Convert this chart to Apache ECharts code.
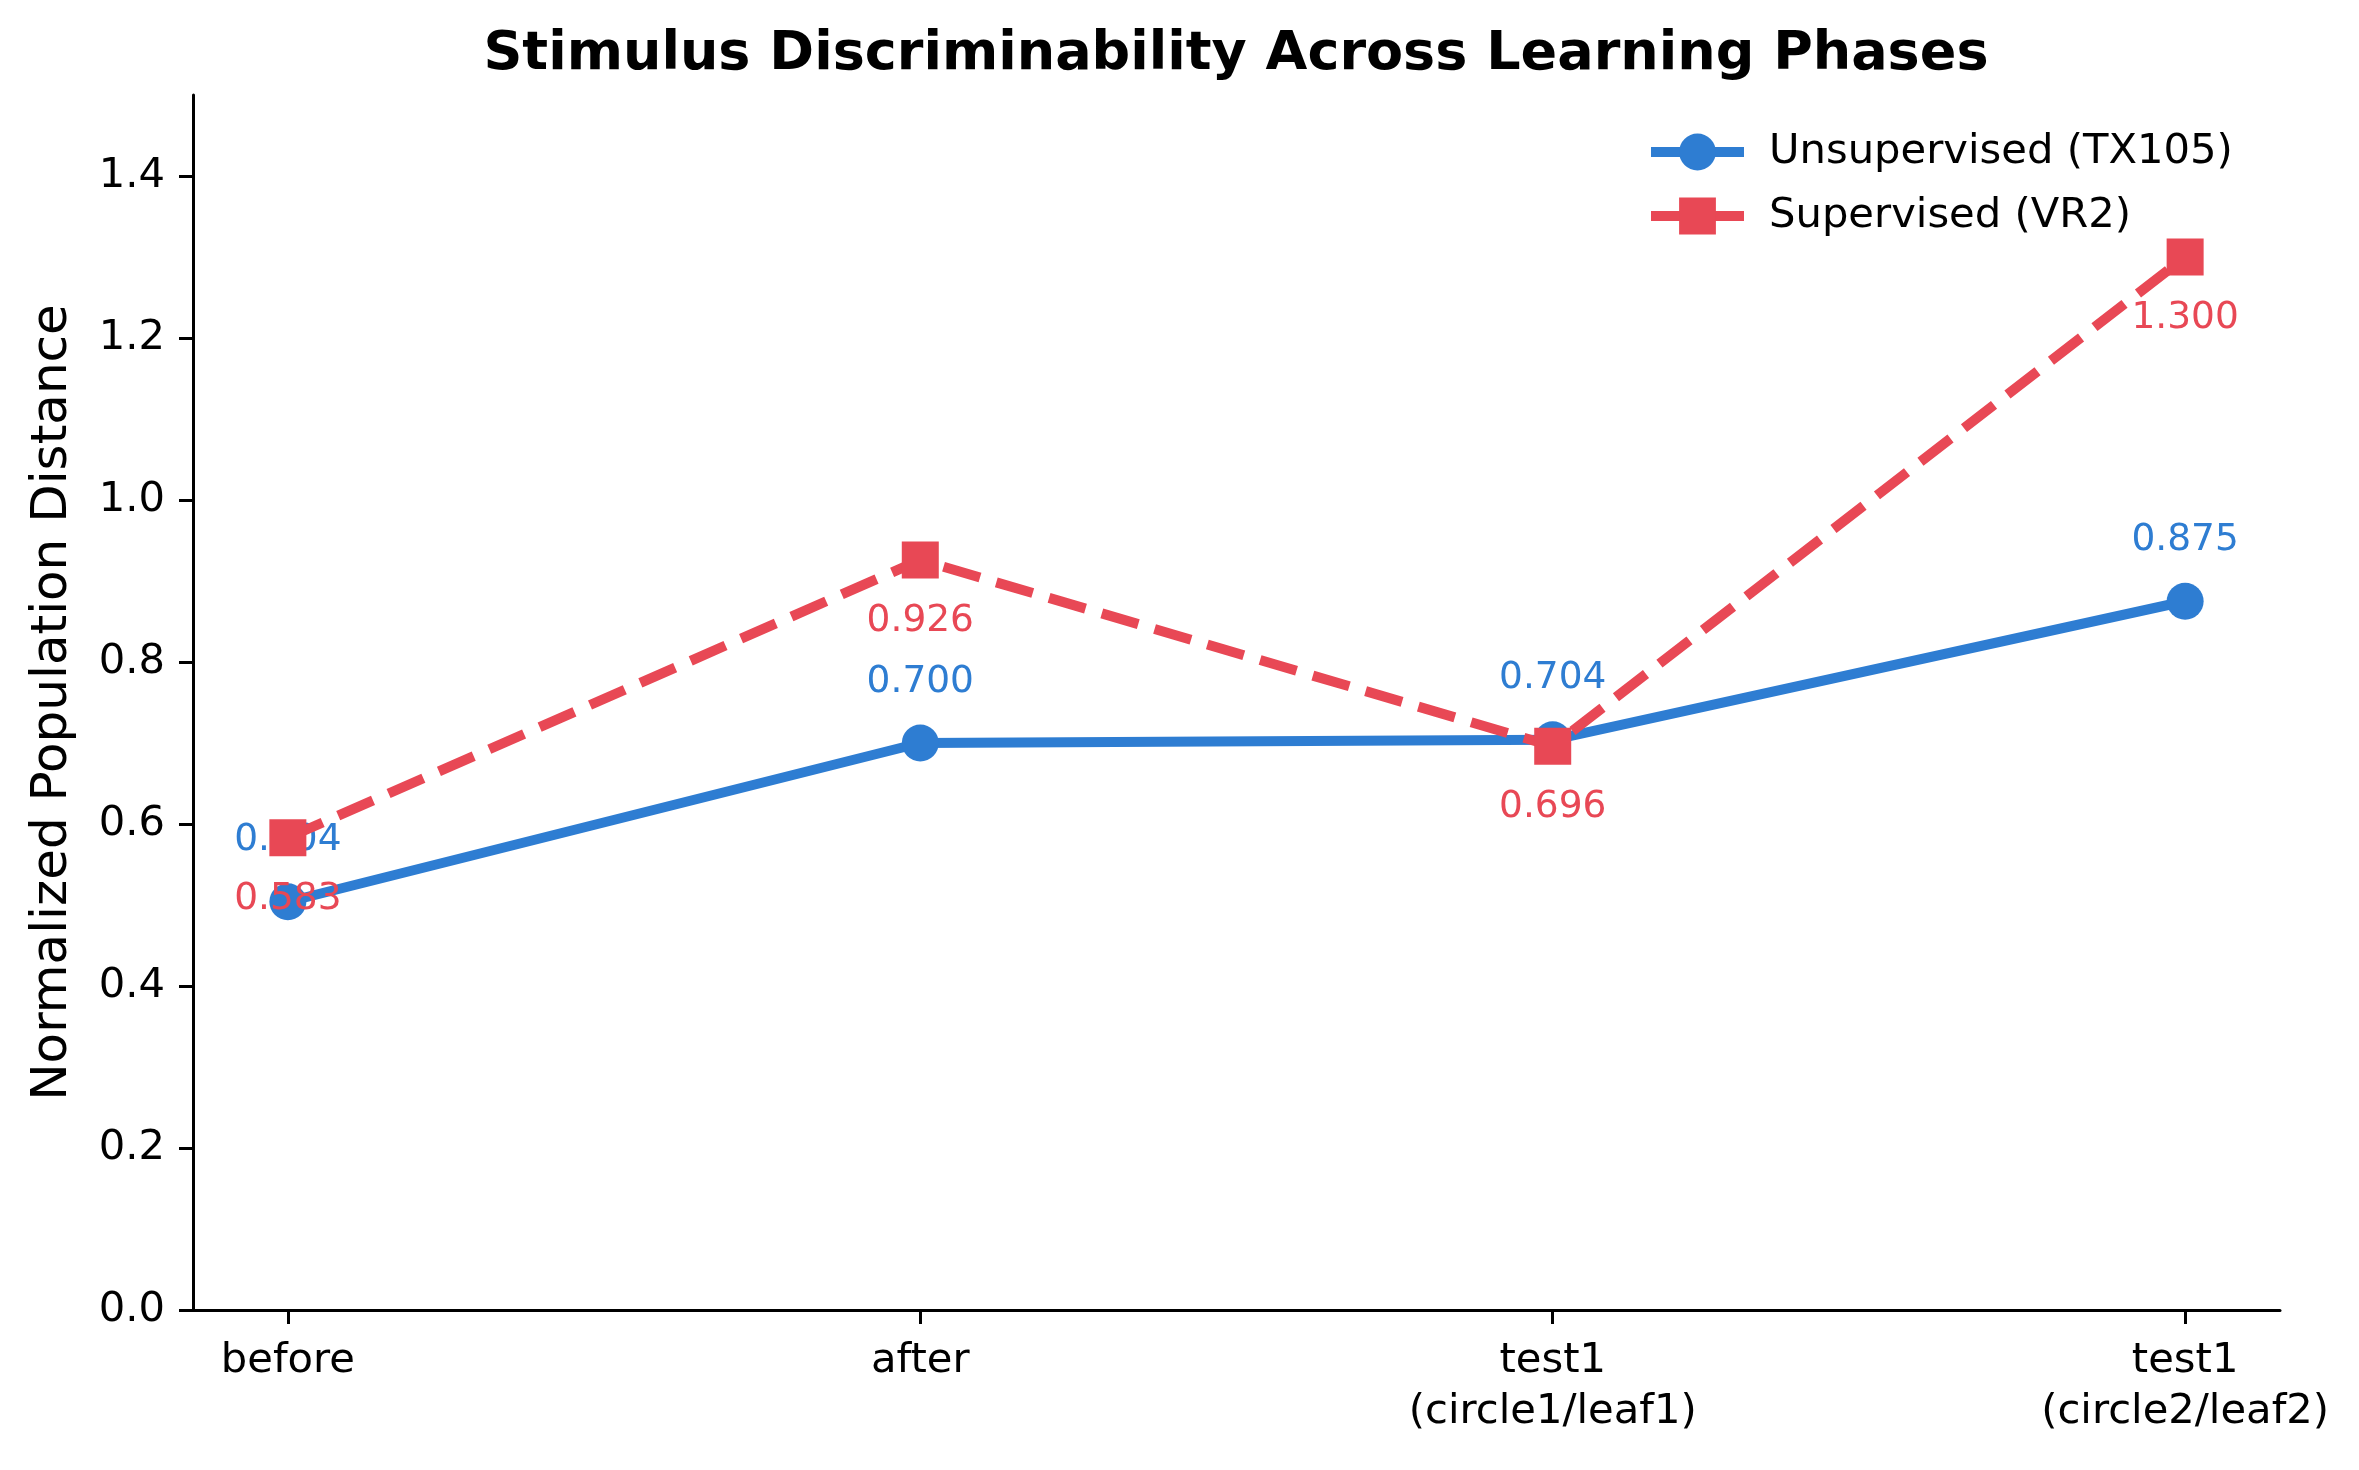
<!DOCTYPE html>
<html>
<head>
<meta charset="utf-8">
<title>Stimulus Discriminability Across Learning Phases</title>
<script src="https://cdn.jsdelivr.net/npm/echarts@6/dist/echarts.min.js"></script>
<style>
  html, body { margin: 0; padding: 0; background: #fff; }
  #chart { width: 2359px; height: 1470px; }
</style>
</head>
<body>
<div id="chart"></div>
<script>
// data
var phases = ["before", "after", "test1\n(circle1/leaf1)", "test1\n(circle2/leaf2)"];
var unsupervised = [0.504, 0.700, 0.704, 0.875];
var supervised = [0.583, 0.926, 0.696, 1.300];
var yTicks = [0, 0.2, 0.4, 0.6, 0.8, 1.0, 1.2, 1.4];

var BLUE = "#2e7dd2";
var RED = "#e84855";
var FONT = "DejaVu Sans";

function pairs(vals) {
  return vals.map(function (v, i) { return [i, v]; });
}
var xIdx = phases.map(function (p, i) { return i; });

var chart = echarts.init(document.getElementById("chart"));

chart.setOption({
  animation: false,
  backgroundColor: "#fff",
  title: {
    text: "Stimulus Discriminability Across Learning Phases",
    left: 1236,
    textAlign: "center",
    top: 28,
    padding: 0,
    textStyle: { fontFamily: FONT, fontSize: 54, fontWeight: "bold", color: "#000" }
  },
  legend: {
    orient: "vertical",
    left: 1646,
    top: 131,
    padding: 0,
    itemWidth: 93,
    itemHeight: 46,
    itemGap: 22,
    lineStyle: { width: 10 },
    textStyle: { fontFamily: FONT, fontSize: 41.7, color: "#000", padding: [0, 0, 0, 20] },
    data: ["Unsupervised (TX105)", "Supervised (VR2)"]
  },
  grid: { left: 193, right: 79, top: 95, bottom: 160, containLabel: false },
  xAxis: {
    type: "value",
    min: -0.15,
    max: 3.15,
    axisLine: { show: true, onZero: false, lineStyle: { color: "#000", width: 3 } },
    axisTick: { show: true, customValues: xIdx, length: 14, lineStyle: { color: "#000", width: 3 } },
    splitLine: { show: false },
    axisLabel: {
      customValues: xIdx,
      margin: 26,
      fontFamily: FONT,
      fontSize: 41.7,
      lineHeight: 51,
      color: "#000",
      formatter: function (v) { return phases[Math.round(v)]; }
    }
  },
  yAxis: {
    type: "value",
    min: 0,
    max: 1.5,
    name: "Normalized Population Distance",
    nameLocation: "middle",
    nameGap: 115,
    nameTextStyle: { fontFamily: FONT, fontSize: 50, color: "#000" },
    axisLine: { show: true, onZero: false, lineStyle: { color: "#000", width: 3 } },
    axisTick: { show: true, customValues: yTicks, length: 14, lineStyle: { color: "#000", width: 3 } },
    splitLine: { show: false },
    axisLabel: {
      customValues: yTicks,
      margin: 28,
      fontFamily: FONT,
      fontSize: 41.7,
      color: "#000",
      formatter: function (v) { return v.toFixed(1); }
    }
  },
  series: [
    {
      name: "Unsupervised (TX105)",
      type: "line",
      data: pairs(unsupervised),
      symbol: "circle",
      symbolSize: 37,
      lineStyle: { color: BLUE, width: 10 },
      itemStyle: { color: BLUE },
      label: {
        show: true,
        position: "inside",
        offset: [0, -61],
        fontFamily: FONT,
        fontSize: 37.5,
        color: BLUE,
        formatter: function (p) { return p.value[1].toFixed(3); }
      },
      z: 2
    },
    {
      name: "Supervised (VR2)",
      type: "line",
      data: pairs(supervised),
      symbol: "rect",
      symbolSize: 37,
      lineStyle: { color: RED, width: 10, type: [38, 17] },
      itemStyle: { color: RED },
      label: {
        show: true,
        position: "inside",
        offset: [0, 61],
        fontFamily: FONT,
        fontSize: 37.5,
        color: RED,
        formatter: function (p) { return p.value[1].toFixed(3); }
      },
      z: 3
    }
  ]
});
</script>
</body>
</html>
